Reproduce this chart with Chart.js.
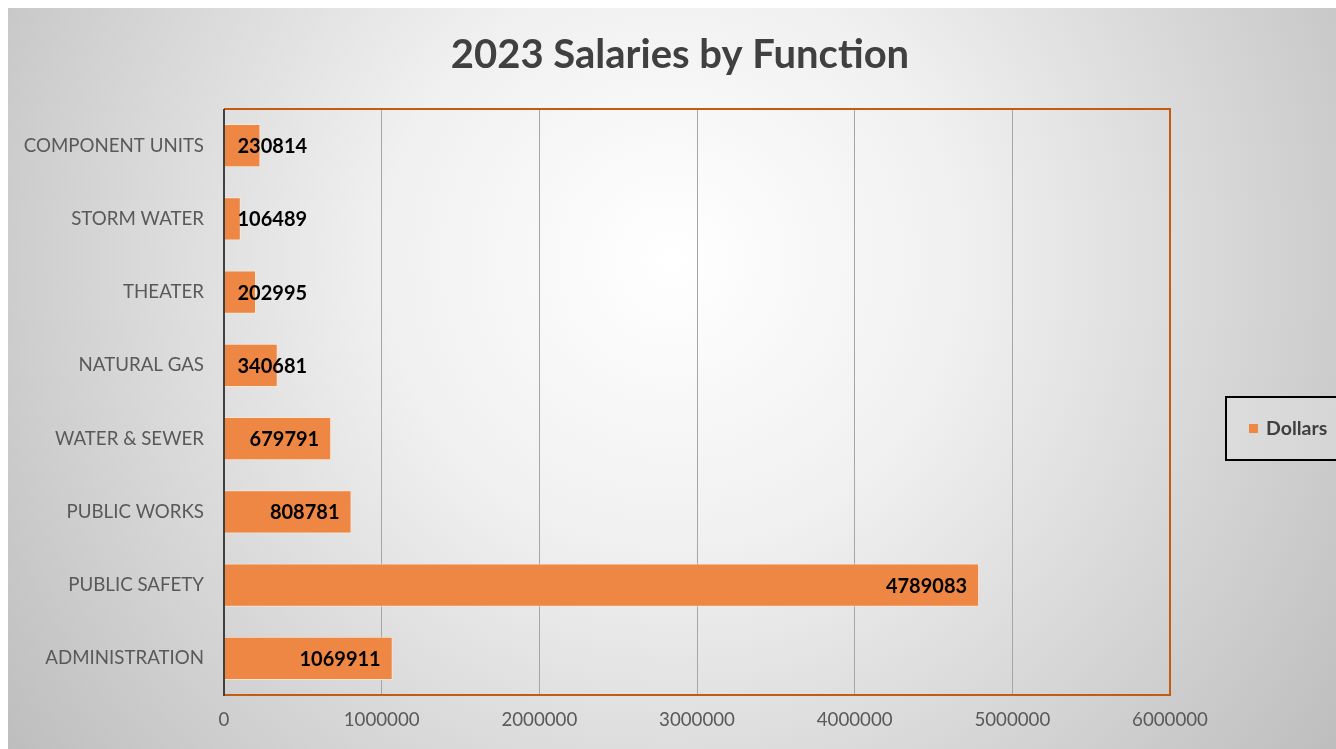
<!DOCTYPE html>
<html>
<head>
<meta charset="utf-8">
<script src="https://cdn.jsdelivr.net/npm/chart.js@4.4.0/dist/chart.umd.min.js"></script>
<style>
  html, body { margin: 0; padding: 0; background: #ffffff; }
  #wrap { width: 1336px; height: 749px; position: relative; }
</style>
</head>
<body>
<div id="wrap"><canvas id="c" width="1336" height="749"></canvas></div>
<script>
// ---- data ----
const categories = ["ADMINISTRATION", "PUBLIC SAFETY", "PUBLIC WORKS", "WATER & SEWER", "NATURAL GAS", "THEATER", "STORM WATER", "COMPONENT UNITS"];
const dollars = [1069911, 4789083, 808781, 679791, 340681, 202995, 106489, 230814];
const seriesName = "Dollars";
const chartTitle = "2023 Salaries by Function";
const xMin = 0, xMax = 6000000, xStep = 1000000;

const ORANGE = '#EE8744';
const BORDER_ORANGE = '#C55A11';
const FONT = 'Lato, "Open Sans", sans-serif';

const bgPlugin = {
  id: 'bg',
  beforeDraw(chart) {
    const ctx = chart.ctx;
    ctx.save();
    ctx.fillStyle = '#ffffff';
    ctx.fillRect(0, 0, chart.width, chart.height);
    const g = ctx.createRadialGradient(672, 260, 0, 672, 260, 830);
    g.addColorStop(0, '#ffffff');
    g.addColorStop(0.35, '#f0f0f0');
    g.addColorStop(1, '#bdbdbd');
    ctx.fillStyle = g;
    ctx.fillRect(8, 8, chart.width - 8, chart.height - 8);
    ctx.restore();
  }
};

const framePlugin = {
  id: 'frame',
  afterDatasetsDraw(chart) {
    const ctx = chart.ctx;
    const a = chart.chartArea;
    ctx.save();
    // data labels
    const meta = chart.getDatasetMeta(0);
    ctx.font = 'bold 20px ' + FONT;
    ctx.fillStyle = '#000000';
    ctx.textAlign = 'right';
    ctx.textBaseline = 'middle';
    meta.data.forEach((bar, i) => {
      const txt = String(chart.data.datasets[0].data[i]);
      const w = ctx.measureText(txt).width;
      const right = Math.max(bar.x - 12, bar.base + 13 + w);
      ctx.fillText(txt, right, bar.y + 1);
    });
    // top and right orange border
    ctx.strokeStyle = BORDER_ORANGE;
    ctx.lineWidth = 2;
    ctx.beginPath();
    ctx.moveTo(a.left, a.top);
    ctx.lineTo(a.right, a.top);
    ctx.lineTo(a.right, a.bottom);
    ctx.stroke();
    // bottom border
    ctx.beginPath();
    ctx.moveTo(a.left, a.bottom);
    ctx.lineTo(a.right + 1, a.bottom);
    ctx.stroke();
    // left axis line
    ctx.strokeStyle = '#404040';
    ctx.beginPath();
    ctx.moveTo(a.left, a.top);
    ctx.lineTo(a.left, a.bottom + 1);
    ctx.stroke();
    ctx.restore();
  },
  afterDraw(chart) {
    const ctx = chart.ctx;
    ctx.save();
    // title
    ctx.font = 'bold 40px ' + FONT;
    ctx.fillStyle = '#404040';
    ctx.textAlign = 'center';
    ctx.textBaseline = 'middle';
    ctx.fillText(chartTitle, 680, 55);
    // legend
    ctx.strokeStyle = '#000000';
    ctx.lineWidth = 2;
    ctx.fillStyle = 'rgba(235,235,235,0.35)';
    ctx.fillRect(1226, 397, 130, 63);
    ctx.strokeRect(1226, 397, 130, 63);
    ctx.fillStyle = ORANGE;
    ctx.fillRect(1249, 424, 9, 9);
    ctx.font = 'bold 19.5px ' + FONT;
    ctx.fillStyle = '#404040';
    ctx.textAlign = 'left';
    ctx.fillText(chart.data.datasets[0].label, 1266, 429);
    ctx.restore();
  }
};

new Chart(document.getElementById('c'), {
  type: 'bar',
  data: {
    labels: categories,
    datasets: [{
      label: seriesName,
      data: dollars,
      backgroundColor: ORANGE,
      borderColor: 'rgba(255,230,210,0.9)',
      borderWidth: 1,
      borderSkipped: 'start',
      categoryPercentage: 1.0,
      barPercentage: 0.59
    }]
  },
  options: {
    indexAxis: 'y',
    responsive: false,
    animation: false,
    devicePixelRatio: 1,
    layout: { padding: { left: 8, top: 109, right: 166, bottom: 0 } },
    plugins: {
      legend: { display: false },
      title: { display: false },
      tooltip: { enabled: false }
    },
    scales: {
      x: {
        type: 'linear',
        min: xMin,
        max: xMax,
        afterFit(scale) { scale.height = 54; },
        ticks: {
          stepSize: xStep,
          color: '#595959',
          font: { family: FONT, size: 18.7 },
          padding: 14,
          callback: v => String(v)
        },
        grid: { color: '#a6a6a6', lineWidth: 1, drawTicks: false },
        border: { display: false }
      },
      y: {
        reverse: true,
        afterFit(scale) { scale.width = 224 - 8; },
        ticks: {
          color: '#595959',
          font: { family: FONT, size: 18.7 },
          padding: 20
        },
        grid: { display: false, drawTicks: false },
        border: { display: false }
      }
    }
  },
  plugins: [bgPlugin, framePlugin]
});
</script>
</body>
</html>
